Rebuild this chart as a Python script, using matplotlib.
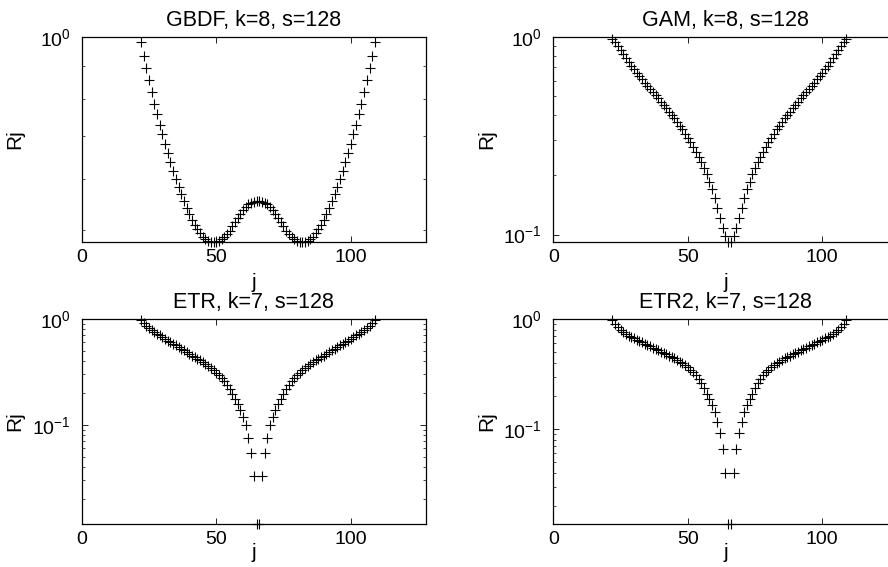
import numpy as np
import matplotlib
matplotlib.use("Agg")
import matplotlib.pyplot as plt
from matplotlib.ticker import LogLocator, NullFormatter, LogFormatterSciNotation, FixedLocator

plt.rcParams['font.family'] = ['Liberation Sans', 'DejaVu Sans']
plt.rcParams['mathtext.fontset'] = 'custom'
plt.rcParams['mathtext.rm'] = 'Liberation Sans'
plt.rcParams['mathtext.it'] = 'Liberation Sans:italic'

# indices j = 22 .. 109
j = np.arange(22, 110)

gbdf = [0.980, 0.932, 0.893, 0.856, 0.819, 0.786, 0.757, 0.730, 0.705, 0.681,
        0.659, 0.638, 0.618, 0.600, 0.584, 0.569, 0.555, 0.542, 0.530, 0.519,
        0.510, 0.502, 0.495, 0.489, 0.485, 0.482, 0.480, 0.4795, 0.4795, 0.481,
        0.484, 0.488, 0.493, 0.499, 0.507, 0.515, 0.523, 0.530, 0.538, 0.544,
        0.549, 0.552, 0.554, 0.555,
        0.555, 0.554, 0.552, 0.549, 0.544, 0.538, 0.530, 0.523, 0.515, 0.507,
        0.499, 0.493, 0.488, 0.484, 0.481, 0.4795, 0.4795, 0.480, 0.482, 0.485,
        0.489, 0.495, 0.502, 0.510, 0.519, 0.530, 0.542, 0.555, 0.569, 0.584,
        0.600, 0.618, 0.638, 0.659, 0.681, 0.705, 0.730, 0.757, 0.786, 0.819,
        0.856, 0.893, 0.932, 0.980]

gam = [0.973, 0.936, 0.900, 0.856, 0.814, 0.777, 0.742, 0.714, 0.684, 0.658,
       0.635, 0.609, 0.586, 0.566, 0.544, 0.528, 0.508, 0.488, 0.469, 0.452,
       0.435, 0.418, 0.402, 0.387, 0.372, 0.355, 0.340, 0.324, 0.307, 0.293,
       0.277, 0.263, 0.248, 0.232, 0.216, 0.202, 0.185, 0.170, 0.154, 0.137,
       0.121, 0.108, 0.098, 0.0918,
       0.0918, 0.098, 0.108, 0.121, 0.137, 0.154, 0.170, 0.185, 0.202, 0.216,
       0.232, 0.248, 0.263, 0.277, 0.293, 0.307, 0.324, 0.340, 0.355, 0.372,
       0.387, 0.402, 0.418, 0.435, 0.452, 0.469, 0.488, 0.508, 0.528, 0.544,
       0.566, 0.586, 0.609, 0.635, 0.658, 0.684, 0.714, 0.742, 0.777, 0.814,
       0.856, 0.900, 0.936, 0.973]

etr = [0.978, 0.917, 0.865, 0.822, 0.787, 0.753, 0.726, 0.700, 0.670, 0.646,
       0.623, 0.601, 0.579, 0.563, 0.543, 0.523, 0.505, 0.487, 0.469, 0.452,
       0.436, 0.421, 0.406, 0.391, 0.377, 0.361, 0.346, 0.329, 0.312, 0.294,
       0.278, 0.260, 0.240, 0.220, 0.197, 0.174, 0.156, 0.137, 0.119, 0.0989,
       0.0755, 0.0545, 0.0327, 0.0116,
       0.0116, 0.0327, 0.0545, 0.0755, 0.0989, 0.119, 0.137, 0.156, 0.174, 0.197,
       0.220, 0.240, 0.260, 0.278, 0.294, 0.312, 0.329, 0.346, 0.361, 0.377,
       0.391, 0.406, 0.421, 0.436, 0.452, 0.469, 0.487, 0.505, 0.523, 0.543,
       0.563, 0.579, 0.601, 0.623, 0.646, 0.670, 0.700, 0.726, 0.753, 0.787,
       0.822, 0.865, 0.917, 0.978]

etr2 = [0.979, 0.907, 0.846, 0.800, 0.762, 0.731, 0.706, 0.686, 0.667, 0.649,
        0.631, 0.614, 0.597, 0.580, 0.564, 0.549, 0.534, 0.519, 0.505, 0.491,
        0.477, 0.464, 0.451, 0.439, 0.424, 0.409, 0.395, 0.379, 0.364, 0.346,
        0.327, 0.307, 0.285, 0.260, 0.234, 0.210, 0.186, 0.164, 0.1417, 0.1166,
        0.0913, 0.0653, 0.0395, 0.0137,
        0.0137, 0.0395, 0.0653, 0.0913, 0.1166, 0.1417, 0.164, 0.186, 0.210, 0.234,
        0.260, 0.285, 0.307, 0.327, 0.346, 0.364, 0.379, 0.395, 0.409, 0.424,
        0.439, 0.451, 0.464, 0.477, 0.491, 0.505, 0.519, 0.534, 0.549, 0.564,
        0.580, 0.597, 0.614, 0.631, 0.649, 0.667, 0.686, 0.706, 0.731, 0.762,
        0.800, 0.846, 0.907, 0.979]

titles = ["GBDF, k=8, s=128", "GAM, k=8, s=128", "ETR, k=7, s=128", "ETR2, k=7, s=128"]
series = [gbdf, gam, etr, etr2]
ylows = [0.4795, 0.0918, 0.0116, 0.0137]

fig = plt.figure(figsize=(8.88, 5.67), dpi=100)
W, H = 888.0, 567.0
# axes boxes in pixels: left, top, width, height
boxes = [(81.7, 36.7, 344.3, 205.3), (553.3, 36.7, 344.3, 205.3),
         (81.7, 319.0, 344.3, 205.0), (553.3, 319.0, 344.3, 205.0)]

for k in range(4):
    l, t, w, h = boxes[k]
    ax = fig.add_axes([l / W, (H - t - h) / H, w / W, h / H])
    ax.plot(j, series[k], '+', color='black', ms=7, mew=0.8, clip_on=False)
    ax.set_yscale('log')
    ax.set_xlim(0, 128)
    ax.set_ylim(ylows[k], 1)
    ax.xaxis.set_major_locator(FixedLocator([0, 50, 100]))
    ax.yaxis.set_major_locator(LogLocator(base=10))
    ax.yaxis.set_minor_locator(LogLocator(base=10, subs=np.arange(2, 10)))
    ax.yaxis.set_major_formatter(LogFormatterSciNotation())
    ax.yaxis.set_minor_formatter(NullFormatter())
    ax.tick_params(which='both', direction='in', top=True, right=True, labelsize=14)
    ax.tick_params(which='major', length=4, width=0.6)
    ax.tick_params(which='minor', length=2.5, width=0.5)
    ax.tick_params(axis='y', pad=8)
    ax.tick_params(axis='x', pad=5)
    for s in ax.spines.values():
        s.set_linewidth(0.9)
    ax.set_title(titles[k], fontsize=15.5, pad=8)
    ax.set_xlabel('j', fontsize=15)
    ax.set_ylabel('Rj', fontsize=15)
    ax.yaxis.set_label_coords(-57 / w, 0.5)
    if k < 2:
        ax.xaxis.set_label_coords(0.5, -31 / h)
    else:
        ax.xaxis.set_label_coords(0.5, -19 / h)

fig.savefig('out.png', dpi=100)
